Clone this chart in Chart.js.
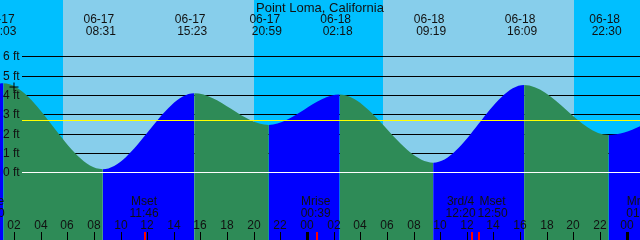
<!DOCTYPE html>
<html>
<head>
<meta charset="utf-8">
<title>Point Loma tides</title>
<script src="https://cdn.jsdelivr.net/npm/chart.js@4.4.1/dist/chart.umd.min.js"></script>
<style>
    html, body { margin: 0; padding: 0; background: #fff; }
    #wrap { width: 640px; height: 240px; }
</style>
</head>
<body>
<div id="wrap"><canvas id="tide-chart" width="640" height="240"></canvas></div>
<script>
const stationName = "Point Loma, California";

// tide turning points, hours counted from 06-17 00:00
const tideHours = [-5.3, 1.05, 8.52, 15.38, 20.98, 26.3, 33.32, 40.15, 46.5, 52.8];
const tideFeet  = [2.6, 4.6, 0.16, 4.09, 2.45, 4.02, 0.5, 4.52, 1.93, 3.9];
const tideDates = ["", "06-17", "06-17", "06-17", "06-17", "06-18", "06-18", "06-18", "06-18", ""];
const tideTimes = ["", "01:03", "08:31", "15:23", "20:59", "02:18", "09:19", "16:09", "22:30", ""];
// the drawn curve turns a few minutes after the printed time
const curveLag = 0.15;

// daylight
const sunriseHours = [5.68, 29.68];
const sunsetHours  = [20.02, 44.04];

// moon events
const moonHours  = [0.17, 11.77, 24.65, 36.33, 36.83, 49.1];
const moonEvents = ["Mrise", "Mset", "Mrise", "3rd/4", "Mset", "Mrise"];
const moonTimes  = ["00:10", "11:46", "00:39", "12:20", "12:50", "01:06"];

// bottom hour axis
const tickHours  = [2, 4, 6, 8, 10, 12, 14, 16, 18, 20, 22, 24, 26, 28, 30, 32, 34, 36, 38, 40, 42, 44, 46, 48];
const tickLabels = ["02", "04", "06", "08", "10", "12", "14", "16", "18", "20", "22", "00",
                    "02", "04", "06", "08", "10", "12", "14", "16", "18", "20", "22", "00"];

// height axis
const heightTicks  = [0, 1, 2, 3, 4, 5, 6];
const heightLabels = ["0 ft", "1 ft", "2 ft", "3 ft", "4 ft", "5 ft", "6 ft"];
const meanLevel = 2.7;

// current time marker
const nowHour = 2.0;
const nowFeet = 4.41;

const NIGHT = "#00bfff";
const DAY = "#87ceeb";
const RISING = "#0000ff";
const FALLING = "#2e8b57";
const FONT = "12px 'Liberation Sans', Arial, sans-serif";
const TEXT = "#111";

// Plugin for the sky bands, grid lines and all the labels
const tideDecor = {
    id: "tideDecor",
    beforeDatasetsDraw(chart) {
        const { ctx, chartArea: area, scales: { x, y } } = chart;
        ctx.save();
        ctx.fillStyle = NIGHT;
        ctx.fillRect(area.left, area.top, area.width, area.height);
        ctx.fillStyle = DAY;
        sunriseHours.forEach((rise, i) => {
            const x0 = Math.round(x.getPixelForValue(rise));
            const x1 = Math.round(x.getPixelForValue(sunsetHours[i]));
            ctx.fillRect(x0, area.top, x1 - x0, area.height);
        });

        ctx.strokeStyle = "#000";
        ctx.lineWidth = 1;
        heightTicks.forEach(ft => {
            if (ft === 0) return;
            const py = Math.round(y.getPixelForValue(ft)) + 0.5;
            ctx.beginPath();
            ctx.moveTo(22, py);
            ctx.lineTo(area.right, py);
            ctx.stroke();
        });
        ctx.restore();
    },
    afterDatasetsDraw(chart) {
        const { ctx, chartArea: area, scales: { x, y } } = chart;
        ctx.save();

        // mean level and zero line
        let py = Math.round(y.getPixelForValue(meanLevel)) + 0.5;
        ctx.strokeStyle = "#ffff00";
        ctx.lineWidth = 1;
        ctx.beginPath();
        ctx.moveTo(22, py);
        ctx.lineTo(area.right, py);
        ctx.stroke();

        py = Math.round(y.getPixelForValue(0)) + 0.5;
        ctx.strokeStyle = "#ffffff";
        ctx.beginPath();
        ctx.moveTo(22, py);
        ctx.lineTo(area.right, py);
        ctx.stroke();

        ctx.fillStyle = TEXT;
        ctx.font = FONT;
        ctx.textBaseline = "middle";

        // height labels
        ctx.textAlign = "left";
        heightTicks.forEach((ft, i) => {
            ctx.fillText(heightLabels[i], 3, Math.round(y.getPixelForValue(ft)) + 0.5);
        });

        // title
        ctx.textAlign = "center";
        ctx.font = "13px 'Liberation Sans', Arial, sans-serif";
        ctx.fillText(stationName, 320, 8);
        ctx.font = FONT;

        // high / low labels
        tideHours.forEach((h, i) => {
            if (!tideTimes[i]) return;
            const px = x.getPixelForValue(h);
            ctx.fillText(tideDates[i], px - 2, 20);
            ctx.fillText(tideTimes[i], px, 32);
        });

        // moon labels, pushed apart when they collide
        const boxes = moonHours.map((h, i) => ({
            cx: x.getPixelForValue(h),
            w: Math.max(ctx.measureText(moonEvents[i]).width, ctx.measureText(moonTimes[i]).width)
        }));
        for (let i = 1; i < boxes.length; i++) {
            const a = boxes[i - 1], b = boxes[i];
            const need = (a.w + b.w) / 2 + 2;
            if (b.cx - a.cx < need) {
                const mid = (a.cx + b.cx) / 2 + 2;
                a.cx = mid - need / 2;
                b.cx = mid + need / 2;
            }
        }
        boxes.forEach((b, i) => {
            ctx.fillText(moonEvents[i], b.cx, 202);
            ctx.fillText(moonTimes[i], b.cx, 214);
        });

        // hour labels and ticks
        tickHours.forEach((h, i) => {
            const px = Math.round(x.getPixelForValue(h));
            ctx.fillStyle = TEXT;
            ctx.fillText(tickLabels[i], px, 226);
            ctx.fillStyle = "#000";
            if (h % 24 === 0) {
                ctx.fillRect(px - 1, 232, 3, 8);
            } else {
                ctx.fillRect(px, 232, 1, 8);
            }
        });

        // moon event ticks
        ctx.fillStyle = "#ff0000";
        moonHours.forEach(h => {
            const px = Math.round(x.getPixelForValue(h));
            ctx.fillRect(px, 232, 2, 8);
        });

        ctx.restore();
    }
};

const ctx = document.getElementById("tide-chart").getContext("2d");

const tideChart = new Chart(ctx, {
    type: "line",
    data: {
        datasets: [
            {
                label: "now",
                data: [{ x: nowHour, y: nowFeet }],
                showLine: false,
                pointStyle: "cross",
                pointRadius: 4.5,
                pointBorderColor: "#000",
                pointBorderWidth: 1,
                fill: false,
                order: 0,
            },
            {
                label: "Tide",
                data: tideHours.map((h, i) => ({ x: h + curveLag, y: tideFeet[i] })),
                cubicInterpolationMode: "monotone",
                borderColor: "rgba(0,0,0,0)",
                borderWidth: 0,
                pointRadius: 0,
                fill: "start",
                backgroundColor: FALLING,
                segment: {
                    backgroundColor: c => c.p1.parsed.y > c.p0.parsed.y ? RISING : FALLING,
                },
                order: 1,
            },
        ],
    },
    options: {
        responsive: false,
        animation: false,
        events: [],
        layout: { padding: 0, autoPadding: false },
        plugins: {
            legend: { display: false },
            tooltip: { enabled: false },
        },
        scales: {
            x: { type: "linear", min: 0.95, max: 49.0, display: false },
            y: { type: "linear", min: -3.5, max: 8.91, display: false },
        },
    },
    plugins: [tideDecor],
});
</script>
</body>
</html>
